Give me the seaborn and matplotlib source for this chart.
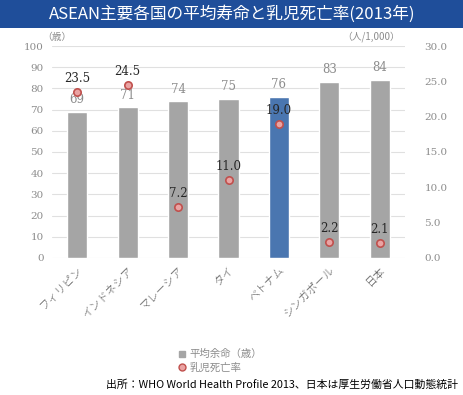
import matplotlib
matplotlib.use("Agg")
import matplotlib.pyplot as plt
import seaborn as sns
import pandas as pd
from matplotlib.lines import Line2D

countries = ["フィリピン", "インドネシア", "マレーシア", "タイ", "ベトナム", "シンガポール", "日本"]
life_exp = [69, 71, 74, 75, 76, 83, 84]
infant_mort = [23.5, 24.5, 7.2, 11.0, 19.0, 2.2, 2.1]
left_ticks = [0, 10, 20, 30, 40, 50, 60, 70, 80, 90, 100]
right_ticks = [0, 5, 10, 15, 20, 25, 30]

sns.set_theme(style="white")
plt.rcParams['font.family'] = ['Noto Sans CJK JP', 'DejaVu Sans']

GRAY = "#a5a5a5"
BLUE = "#4a76b0"
bar_colors = {c: (BLUE if c == "ベトナム" else GRAY) for c in countries}

df = pd.DataFrame({"country": countries, "life": life_exp, "infant": infant_mort})

fig = plt.figure(figsize=(4.64, 3.95), dpi=100)
ax = fig.add_axes([0.112, 0.347, 0.761, 0.5365])

sns.barplot(data=df, x="country", y="life", hue="country", palette=bar_colors,
            width=0.4, legend=False, ax=ax, saturation=1)
ax.set_ylim(0, 100)
ax.set_xlim(-0.5, len(countries) - 0.5)
ax.set_yticks(left_ticks)
ax.set_yticklabels([str(t) for t in left_ticks], family="DejaVu Serif", fontsize=7.5, color="#8c8c8c")
ax.yaxis.grid(True, color="#e0e0e0", linewidth=0.8)
ax.set_axisbelow(True)
for s in ax.spines.values():
    s.set_visible(False)
ax.tick_params(axis="both", length=0, pad=6)
ax.set_xlabel("")
ax.set_ylabel("")
ax.set_xticks(range(len(countries)))
ax.set_xticklabels(countries, rotation=45, ha="right", va="top", rotation_mode="anchor",
                   fontsize=8, color="#595959", fontweight="light")
ax.tick_params(axis="x", pad=5)

for i, v in enumerate(life_exp):
    ax.annotate(str(v), (i, v), xytext=(0, 4), textcoords="offset points", ha="center",
                va="bottom", family="DejaVu Serif", fontsize=8.5, color="#8c8c8c")

ax2 = ax.twinx()
sns.scatterplot(x=list(range(len(countries))), y=infant_mort, ax=ax2, s=28, marker="o",
                color="#eaa3a3", edgecolor="#c0504d", linewidth=1.2, zorder=5, legend=False)
ax2.set_ylim(0, 30)
ax2.set_yticks(right_ticks)
ax2.set_yticklabels([f"{t:.1f}" for t in right_ticks], family="DejaVu Serif", fontsize=7.5, color="#8c8c8c")
ax2.tick_params(axis="y", length=0, pad=14)
for s in ax2.spines.values():
    s.set_visible(False)
ax2.set_ylabel("")
for i, v in enumerate(infant_mort):
    ax2.annotate(f"{v:.1f}", (i, v), xytext=(0, 5), textcoords="offset points", ha="center",
                 va="bottom", family="DejaVu Serif", fontsize=8.5, color="#262626")

# units
fig.text(42 / 464, 1 - 37 / 395, "（歳）", fontsize=7, color="#8c8c8c", va="center", ha="left")
fig.text(400 / 464, 1 - 37 / 395, "（人/1,000）", fontsize=7, color="#8c8c8c", va="center", ha="right")

# title bar
fig.patches.append(plt.Rectangle((0, 1 - 28 / 395), 1, 28 / 395, transform=fig.transFigure,
                                 facecolor="#1f4e9a", edgecolor="none", zorder=0))
fig.text(0.5, 1 - 14 / 395, "ASEAN主要各国の平均寿命と乳児死亡率(2013年)", color="white",
         fontsize=12, ha="center", va="center")

# legend
handles = [
    Line2D([0], [0], marker="s", linestyle="none", markersize=5, markerfacecolor=GRAY,
           markeredgecolor=GRAY, label="平均余命（歳）"),
    Line2D([0], [0], marker="o", linestyle="none", markersize=5, markerfacecolor="#eaa3a3",
           markeredgecolor="#c0504d", label="乳児死亡率"),
]
fig.legend(handles=handles, loc="center left", bbox_to_anchor=(172 / 464, 1 - 361 / 395),
           frameon=False, fontsize=7.5, labelcolor="#8c8c8c", handletextpad=0.2,
           borderpad=0, labelspacing=0.3, handlelength=1)

fig.text(458 / 464, 1 - 385 / 395, "出所：WHO World Health Profile 2013、日本は厚生労働省人口動態統計",
         fontsize=7.8, color="black", ha="right", va="center")

fig.savefig("out.png", dpi=100)
